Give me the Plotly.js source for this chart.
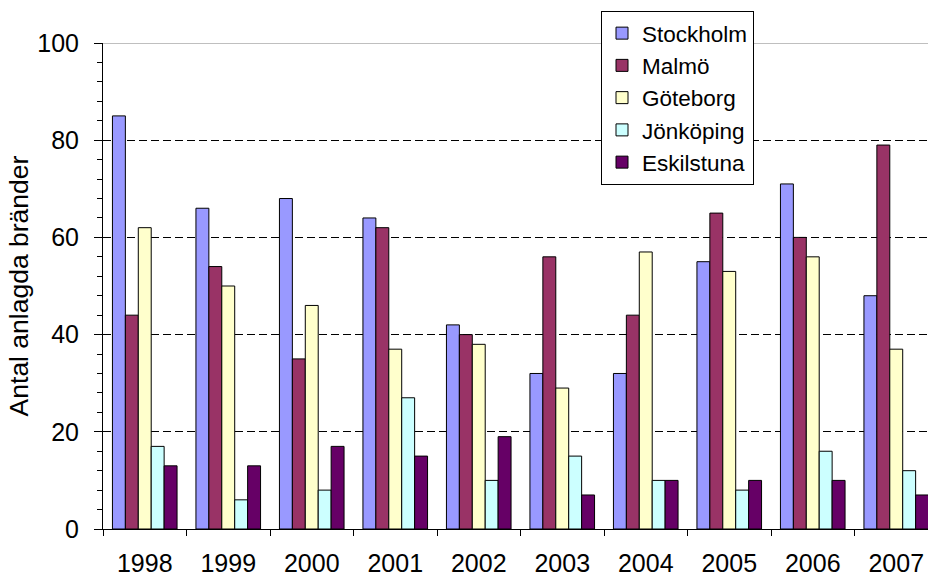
<!DOCTYPE html>
<html>
<head>
<meta charset="utf-8">
<script src="https://cdn.plot.ly/plotly-3.0.1.min.js"></script>
<style>
html, body { margin: 0; padding: 0; overflow: hidden; background: #fff; width: 928px; height: 577px; }
#chart { width: 938px; height: 577px; }
</style>
</head>
<body>
<div id="chart"></div>
<script>
const years = ["1998", "1999", "2000", "2001", "2002", "2003", "2004", "2005", "2006", "2007"];
const stockholm = [85, 66, 68, 64, 42, 32, 32, 55, 71, 48];
const malmo = [44, 54, 35, 62, 40, 56, 44, 65, 60, 79];
const goteborg = [62, 50, 46, 37, 38, 29, 57, 53, 56, 37];
const jonkoping = [17, 6, 8, 27, 10, 15, 10, 8, 16, 12];
const eskilstuna = [13, 13, 17, 15, 19, 7, 10, 10, 10, 7];
const seriesNames = ["Stockholm", "Malmö", "Göteborg", "Jönköping", "Eskilstuna"];
const seriesColors = ["#9999FF", "#993366", "#FFFFCC", "#CCFFFF", "#660066"];
const yTitle = "Antal anlagda bränder";

const seriesValues = [stockholm, malmo, goteborg, jonkoping, eskilstuna];
const font = "'Liberation Sans', Arial, sans-serif";

const traces = seriesValues.map((vals, i) => ({
  type: "bar",
  name: seriesNames[i],
  x: years,
  y: vals,
  marker: { color: seriesColors[i], line: { color: "#000000", width: 1 } },
  hoverinfo: "none"
}));

const layout = {
  width: 938,
  height: 577,
  margin: { l: 103, r: 0, t: 43, b: 48, pad: 0, autoexpand: false },
  paper_bgcolor: "#ffffff",
  plot_bgcolor: "#ffffff",
  font: { family: font, color: "#000000", size: 25 },
  barmode: "group",
  bargap: 0.226,
  bargroupgap: 0,
  showlegend: true,
  legend: {
    xref: "container", yref: "container",
    x: 601 / 938, y: 1 - 11 / 577,
    xanchor: "left", yanchor: "top",
    bgcolor: "#ffffff",
    bordercolor: "#000000",
    borderwidth: 1,
    font: { family: font, size: 22.5, color: "#000000" },
    traceorder: "normal"
  },
  xaxis: {
    type: "category",
    showline: true,
    linecolor: "#000000",
    linewidth: 1,
    ticks: "outside",
    tickson: "boundaries",
    ticklen: 6,
    tickcolor: "#000000",
    tickwidth: 1,
    tickangle: 0,
    ticklabelstandoff: 12,
    tickfont: { family: font, size: 25, color: "#000000" },
    showgrid: false,
    zeroline: false,
    automargin: false,
    fixedrange: true
  },
  yaxis: {
    range: [0, 100],
    dtick: 20,
    tick0: 0,
    showline: true,
    linecolor: "#000000",
    linewidth: 1,
    ticks: "outside",
    ticklen: 8,
    tickcolor: "#000000",
    tickwidth: 1,
    ticklabelstandoff: 10,
    tickfont: { family: font, size: 25, color: "#000000" },
    showgrid: true,
    gridcolor: "#000000",
    gridwidth: 1,
    griddash: "8px,4px",
    zeroline: false,
    minor: { dtick: 4, ticks: "outside", ticklen: 5, tickcolor: "#000000", tickwidth: 1, showgrid: false },
    title: { text: yTitle, font: { family: font, size: 26.5, color: "#000000" }, standoff: 1 },
    automargin: false,
    fixedrange: true
  },
  shapes: [{
    type: "line", xref: "paper", yref: "y",
    x0: 0, x1: 1, y0: 100, y1: 100,
    line: { color: "#808080", width: 1 },
    layer: "above"
  }]
};

Plotly.newPlot("chart", traces, layout, { displayModeBar: false, staticPlot: true });
</script>
</body>
</html>
